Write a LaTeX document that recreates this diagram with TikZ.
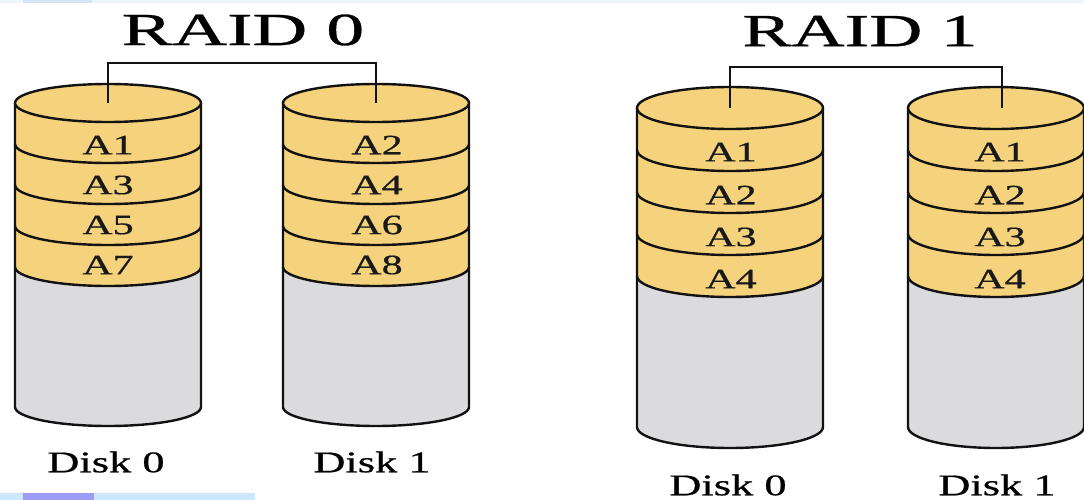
\documentclass[tikz,border=0pt]{standalone}
\usepackage{fontspec}
\setmainfont{Liberation Serif}
\newfontfamily\inkserif[FakeBold=0.6]{Liberation Serif}
\usetikzlibrary{calc}

\definecolor{diskgold}{RGB}{245,211,124}
\definecolor{diskgray}{RGB}{219,219,221}
\definecolor{inkline}{RGB}{18,18,18}
\definecolor{stripblue}{RGB}{204,232,255}
\definecolor{stripfaint}{RGB}{236,245,253}
\definecolor{stripmark}{RGB}{214,228,248}
\definecolor{stripviolet}{RGB}{157,156,247}

\tikzset{
  diskline/.style={draw=inkline, line width=2.4pt, line join=round},
  conn/.style={draw=inkline, line width=2.1pt},
  title/.style={inner sep=0pt, text=black, font=\inkserif\fontsize{46}{46}\selectfont},
  block/.style={inner sep=0pt, text=black!90, font=\inkserif\fontsize{28}{28}\selectfont},
  disklabel/.style={inner sep=0pt, text=black, font=\inkserif\fontsize{30}{30}\selectfont},
}

% wide lettering
\newcommand{\wtext}[2]{\scalebox{#1}[1]{#2}}

% #1 name, #2 centre x, #3 top ellipse centre y, #4 band height,
% #5 y radius, #6 x radius, #7 bottom ellipse centre y
\newcommand{\drawdisk}[7]{%
  \pgfmathsetmacro{\ylast}{#3+4*#4}%
  \fill[diskgray] (#2-#6,-\ylast) -- (#2-#6,-#7)
     arc[start angle=180,end angle=360,x radius=#6,y radius=#5]
     -- (#2+#6,-\ylast) -- cycle;
  \fill[diskgold] (#2-#6,-#3) -- (#2-#6,-\ylast)
     arc[start angle=180,end angle=360,x radius=#6,y radius=#5]
     -- (#2+#6,-#3) -- cycle;
  \draw[diskline] (#2-#6,-#3) -- (#2-#6,-#7)
     arc[start angle=180,end angle=360,x radius=#6,y radius=#5]
     -- (#2+#6,-#3);
  \foreach \k in {1,...,4}{%
    \draw[diskline] (#2-#6,-#3-\k*#4)
       arc[start angle=180,end angle=360,x radius=#6,y radius=#5];
  }%
  \draw[diskline, fill=diskgold] (#2,-#3) ellipse[x radius=#6, y radius=#5];
  \coordinate (#1) at (#2,-#3);
}

\begin{document}
\begin{tikzpicture}[x=1pt,y=1pt]
\useasboundingbox (0,0) rectangle (1084,-500);
\fill[white] (0,0) rectangle (1084,-500);

% window strips along the edges
\fill[stripfaint] (0,0) rectangle (1084,-3);
\fill[stripmark] (23,0) rectangle (92,-3);
\fill[stripblue] (0,-493) rectangle (255,-500);
\fill[stripviolet] (23,-493) rectangle (94,-500);

% ---------------- RAID 0 ----------------
\drawdisk{rz-d0}{108}{103}{41}{19}{93}{407}
\drawdisk{rz-d1}{376}{103}{41}{19}{93}{407}

\node[title] (rz-title) at (243,-30) {\wtext{1.65}{RAID 0}};
\coordinate (rz-bar) at (242,-63);
\draw[conn] (rz-d0) |- (rz-bar) -| (rz-d1);

\node[block] (rz-a1) at (108,-145) {\wtext{1.5}{A1}};
\node[block] (rz-a3) at (108,-185) {\wtext{1.5}{A3}};
\node[block] (rz-a5) at (108,-225) {\wtext{1.5}{A5}};
\node[block] (rz-a7) at (108,-265) {\wtext{1.5}{A7}};
\node[block] (rz-a2) at (377,-145) {\wtext{1.5}{A2}};
\node[block] (rz-a4) at (377,-185) {\wtext{1.5}{A4}};
\node[block] (rz-a6) at (377,-225) {\wtext{1.5}{A6}};
\node[block] (rz-a8) at (377,-265) {\wtext{1.5}{A8}};

\node[disklabel] (rz-l0) at (106,-462) {\wtext{1.48}{Disk 0}};
\node[disklabel] (rz-l1) at (372,-462) {\wtext{1.48}{Disk 1}};

% ---------------- RAID 1 ----------------
\drawdisk{ro-d0}{730}{108}{42}{21}{93}{427}
\drawdisk{ro-d1}{996}{108}{42}{21}{88}{427}

\node[title] (ro-title) at (860,-31) {\wtext{1.6}{RAID 1}};
\coordinate (ro-bar) at (866,-67);
\draw[conn] (ro-d0) |- (ro-bar) -| ($(ro-d1)+(6,0)$);

\node[block] (ro-a1) at (731,-152) {\wtext{1.5}{A1}};
\node[block] (ro-a2) at (731,-195) {\wtext{1.5}{A2}};
\node[block] (ro-a3) at (731,-237) {\wtext{1.5}{A3}};
\node[block] (ro-a4) at (731,-279) {\wtext{1.5}{A4}};
\node[block] (ro-b1) at (1000,-152) {\wtext{1.5}{A1}};
\node[block] (ro-b2) at (1000,-195) {\wtext{1.5}{A2}};
\node[block] (ro-b3) at (1000,-237) {\wtext{1.5}{A3}};
\node[block] (ro-b4) at (1000,-279) {\wtext{1.5}{A4}};

\node[disklabel] (ro-l0) at (728,-485) {\wtext{1.48}{Disk 0}};
\node[disklabel] (ro-l1) at (997,-485) {\wtext{1.48}{Disk 1}};
\end{tikzpicture}
\end{document}
